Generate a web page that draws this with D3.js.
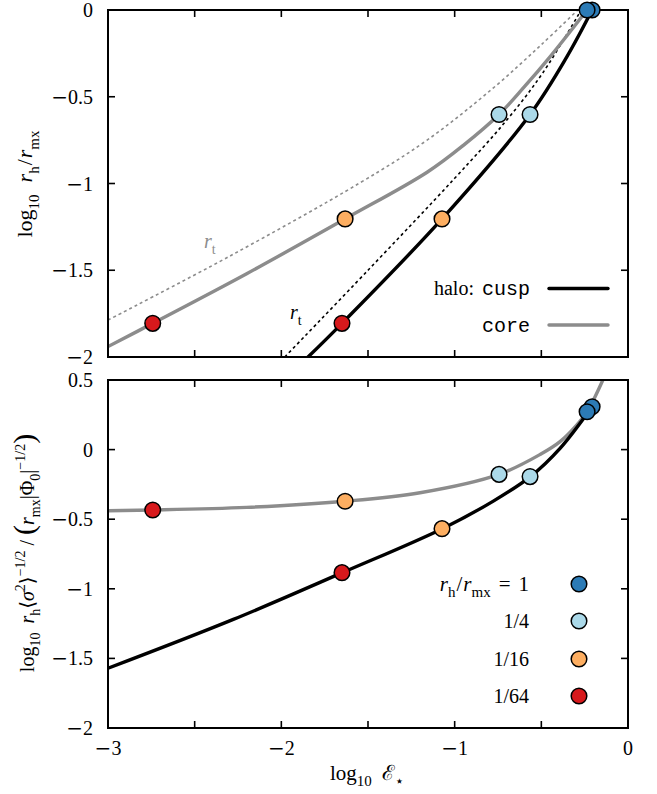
<!DOCTYPE html>
<html>
<head>
<meta charset="utf-8">
<script src="https://cdn.jsdelivr.net/npm/d3@7"></script>
<style>
  html, body { margin: 0; padding: 0; background: #fff; }
  svg { display: block; }
</style>
</head>
<body>
<svg id="chart" width="657" height="794"></svg>
<script>
// ---- data: log10 E_star (x) against the two panel quantities ----
// marker series: r_h / r_mx = 1, 1/4, 1/16, 1/64
const sizeLabels = ["1", "1/4", "1/16", "1/64"];
const sizeColors = ["#2c7bb6", "#abd9e9", "#fdae61", "#d7191c"];

const cuspMarkE = [-0.207, -0.565, -1.073, -1.650];
const cuspMarkR = [0, -0.602, -1.204, -1.806];
const cuspMarkS = [0.308, -0.194, -0.568, -0.884];

const coreMarkE = [-0.236, -0.744, -1.632, -2.742];
const coreMarkR = [0, -0.602, -1.204, -1.806];
const coreMarkS = [0.272, -0.178, -0.371, -0.434];

// upper panel: log10 r_h / r_mx
const cuspTopE = [-1.846, -1.650, -1.073, -0.565, -0.353, -0.207];
const cuspTopR = [-2.000, -1.806, -1.204, -0.602, -0.270, 0.000];
const coreTopE = [-3.000, -2.742, -2.200, -1.632, -1.159, -0.950, -0.744, -0.600, -0.450, -0.236];
const coreTopR = [-1.940, -1.806, -1.520, -1.204, -0.935, -0.780, -0.602, -0.445, -0.270, 0.000];
// tidal radius r_t
const cuspTidalE = [-1.980, -1.500, -1.000, -0.700, -0.490, -0.270];
const cuspTidalR = [-2.000, -1.500, -0.970, -0.635, -0.360, 0.000];
const coreTidalE = [-3.000, -2.300, -1.546, -1.159, -0.778, -0.500, -0.290];
const coreTidalR = [-1.787, -1.420, -0.996, -0.750, -0.450, -0.200, 0.000];

// lower panel: log10 r_h <sigma^2>^-1/2 / (r_mx |Phi_0|^-1/2)
const cuspBotE = [-3.000, -2.277, -1.648, -1.071, -0.777, -0.563, -0.392, -0.207];
const cuspBotS = [-1.571, -1.220, -0.884, -0.568, -0.370, -0.194, 0.009, 0.308];
const coreBotE = [-3.000, -2.742, -2.200, -1.632, -1.200, -0.744, -0.500, -0.392, -0.300, -0.236, -0.145];
const coreBotS = [-0.439, -0.434, -0.415, -0.371, -0.310, -0.178, -0.030, 0.057, 0.170, 0.272, 0.500];

const xTicks = [-3, -2.5, -2, -1.5, -1, -0.5, 0];
const xTickLabels = ["−3", "", "−2", "", "−1", "", "0"];
const topTicks = [-2, -1.5, -1, -0.5, 0];
const topTickLabels = ["−2", "−1.5", "−1", "−0.5", "0"];
const botTicks = [-2, -1.5, -1, -0.5, 0, 0.5];
const botTickLabels = ["−2", "−1.5", "−1", "−0.5", "0", "0.5"];

// ---- layout ----
const svg = d3.select("#chart");
const SERIF = "'Liberation Serif', 'DejaVu Serif', serif";
const MINUS_FONT = "'DejaVu Sans', sans-serif";
const MONO = "'Liberation Mono', 'DejaVu Sans Mono', monospace";
const FS = 20;      // labels and legend
const TFS = 20;     // tick labels
const GREY = "#8c8c8c";

const x = d3.scaleLinear().domain([-3, 0]).range([108, 628]);
const yTop = d3.scaleLinear().domain([-2, 0]).range([357, 10]);
const yBot = d3.scaleLinear().domain([-2, 0.5]).range([728, 380]);

const zip = (a, b) => a.map((v, i) => [v, b[i]]);

// rich text: segments with italic / sub / sup / mono / size options
function rich(parent, segs, attrs, base) {
  const fs = base || FS;
  const t = parent.append("text").attr("font-family", SERIF).attr("font-size", fs).attr("fill", "#000");
  Object.entries(attrs || {}).forEach(([k, v]) => t.attr(k, v));
  let cur = 0;
  segs.forEach(s => {
    const seg = typeof s === "string" ? { t: s } : s;
    const target = seg.sub ? Math.round(fs * 0.3) : seg.sup ? -Math.round(fs * 0.45) : 0;
    const sp = t.append("tspan").text(seg.t).attr("dy", target - cur);
    cur = target;
    if (seg.it) sp.attr("font-style", "italic");
    if (seg.mono) sp.attr("font-family", MONO);
    if (seg.font) sp.attr("font-family", seg.font);
    if (seg.sub || seg.sup) sp.attr("font-size", seg.size || Math.round(fs * 0.7));
    else if (seg.size) sp.attr("font-size", seg.size);
    if (seg.dx) sp.attr("dx", seg.dx);
  });
  return t;
}

// number label with a wide minus sign
function numLabel(parent, str, attrs) {
  const t = parent.append("text").attr("font-family", SERIF).attr("font-size", TFS);
  Object.entries(attrs).forEach(([k, v]) => t.attr(k, v));
  if (str.startsWith("−")) {
    t.append("tspan").attr("font-family", MINUS_FONT).attr("font-size", TFS).text("−");
    t.append("tspan").text(str.slice(1));
  } else t.text(str);
  return t;
}

function panel(id, y, yTicks, yLabels, showXLabels) {
  const g = svg.append("g");
  const [x0, x1] = x.range();
  const [yb, yt] = y.range();
  svg.append("clipPath").attr("id", id).append("rect")
    .attr("x", x0).attr("y", yt).attr("width", x1 - x0).attr("height", yb - yt);
  const tl = 7;
  const ticks = g.append("g").attr("stroke", "#000").attr("stroke-width", 1.6);
  xTicks.forEach(v => {
    ticks.append("line").attr("x1", x(v)).attr("x2", x(v)).attr("y1", yb).attr("y2", yb - tl);
    ticks.append("line").attr("x1", x(v)).attr("x2", x(v)).attr("y1", yt).attr("y2", yt + tl);
  });
  yTicks.forEach(v => {
    ticks.append("line").attr("x1", x0).attr("x2", x0 + tl).attr("y1", y(v)).attr("y2", y(v));
    ticks.append("line").attr("x1", x1).attr("x2", x1 - tl).attr("y1", y(v)).attr("y2", y(v));
  });
  yTicks.forEach((v, i) => {
    numLabel(g, yLabels[i], { x: x0 - 15, y: y(v) + 7, "text-anchor": "end" });
  });
  if (showXLabels) {
    xTicks.forEach((v, i) => {
      if (!xTickLabels[i]) return;
      numLabel(g, xTickLabels[i], { x: x(v), y: yb + 27, "text-anchor": "middle" });
    });
  }
  const plot = svg.append("g").attr("clip-path", `url(#${id})`);
  return { plot, frame: () => svg.append("rect").attr("x", x0).attr("y", yt)
    .attr("width", x1 - x0).attr("height", yb - yt)
    .attr("fill", "none").attr("stroke", "#000").attr("stroke-width", 2) };
}

function curve(g, y, ex, ey, stroke, width, dash) {
  const line = d3.line().x(d => x(d[0])).y(d => y(d[1])).curve(d3.curveCatmullRom.alpha(0.5));
  g.append("path").datum(zip(ex, ey)).attr("d", line)
    .attr("fill", "none").attr("stroke", stroke).attr("stroke-width", width)
    .attr("stroke-dasharray", dash || null).attr("stroke-linecap", dash ? "butt" : "round");
}

function markers(g, y, ex, ey) {
  g.selectAll(null).data(zip(ex, ey)).enter().append("circle")
    .attr("cx", d => x(d[0])).attr("cy", d => y(d[1])).attr("r", 7.8)
    .attr("fill", (d, i) => sizeColors[i]).attr("stroke", "#000").attr("stroke-width", 1.5);
}

// ---- upper panel ----
const upper = panel("clipTop", yTop, topTicks, topTickLabels, false);
curve(upper.plot, yTop, coreTidalE, coreTidalR, GREY, 1.6, "3,3");
curve(upper.plot, yTop, cuspTidalE, cuspTidalR, "#000", 1.6, "3,3");
curve(upper.plot, yTop, coreTopE, coreTopR, GREY, 3.4);
curve(upper.plot, yTop, cuspTopE, cuspTopR, "#000", 3.4);
upper.frame();
markers(svg, yTop, cuspMarkE, cuspMarkR);
markers(svg, yTop, coreMarkE, coreMarkR);

rich(svg, [{ t: "r", it: true }, { t: "t", sub: true }], { x: 204, y: 248, fill: GREY });
rich(svg, [{ t: "r", it: true }, { t: "t", sub: true }], { x: 290, y: 319 });

// legend: halo profile
rich(svg, ["halo: ", { t: "cusp", mono: true, dx: 3 }], { x: 530, y: 295, "text-anchor": "end" });
rich(svg, [{ t: "core", mono: true }], { x: 530, y: 332, "text-anchor": "end" });
svg.append("line").attr("x1", 549).attr("x2", 608).attr("y1", 288.5).attr("y2", 288.5)
  .attr("stroke", "#000").attr("stroke-width", 3.4).attr("stroke-linecap", "round");
svg.append("line").attr("x1", 549).attr("x2", 608).attr("y1", 325).attr("y2", 325)
  .attr("stroke", GREY).attr("stroke-width", 3.4).attr("stroke-linecap", "round");

// ---- lower panel ----
const lower = panel("clipBot", yBot, botTicks, botTickLabels, true);
curve(lower.plot, yBot, coreBotE, coreBotS, GREY, 3.4);
curve(lower.plot, yBot, cuspBotE, cuspBotS, "#000", 3.4);
lower.frame();
markers(svg, yBot, cuspMarkE, cuspMarkS);
markers(svg, yBot, coreMarkE, coreMarkS);

// legend: r_h / r_mx
const legY = [584, 621, 659, 696];
sizeLabels.forEach((lab, i) => {
  const segs = i === 0
    ? [{ t: "r", it: true }, { t: "h", sub: true }, { t: "/", dx: 1 }, { t: "r", it: true, dx: 1 }, { t: "mx", sub: true },
       { t: "=", dx: 8 }, { t: lab, dx: 8 }]
    : [lab];
  rich(svg, segs, { x: 529, y: legY[i] + 7, "text-anchor": "end" }, i === 0 ? 21 : FS);
  svg.append("circle").attr("cx", 579).attr("cy", legY[i]).attr("r", 7.8)
    .attr("fill", sizeColors[i]).attr("stroke", "#000").attr("stroke-width", 1.5);
});

// ---- axis titles ----
rich(svg, ["log", { t: "10", sub: true }, { t: "ℰ", font: "'DejaVu Serif', serif", dx: 10 }, { t: "⋆", sub: true, font: "'DejaVu Sans', sans-serif" }],
  { x: 367, y: 780, "text-anchor": "middle" }, 21);

rich(svg, ["log", { t: "10", sub: true }, { t: "r", it: true, dx: 12 }, { t: "h", sub: true }, { t: "/", dx: 1 }, { t: "r", it: true, dx: 1 }, { t: "mx", sub: true }],
  { transform: "translate(32,184) rotate(-90)", "text-anchor": "middle" }, 22);

rich(svg, ["log", { t: "10", sub: true }, { t: "r", it: true, dx: 9 }, { t: "h", sub: true }, "⟨", { t: "σ", it: true }, { t: "2", sup: true }, "⟩",
  { t: "−1/2", sup: true }, " / ", { t: "(", size: 30 }, { t: "r", it: true }, { t: "mx", sub: true }, "|Φ", { t: "0", sub: true }, "|",
  { t: "−1/2", sup: true }, { t: ")", size: 30 }],
  { transform: "translate(34,553) rotate(-90)", "text-anchor": "middle" });
</script>
</body>
</html>
